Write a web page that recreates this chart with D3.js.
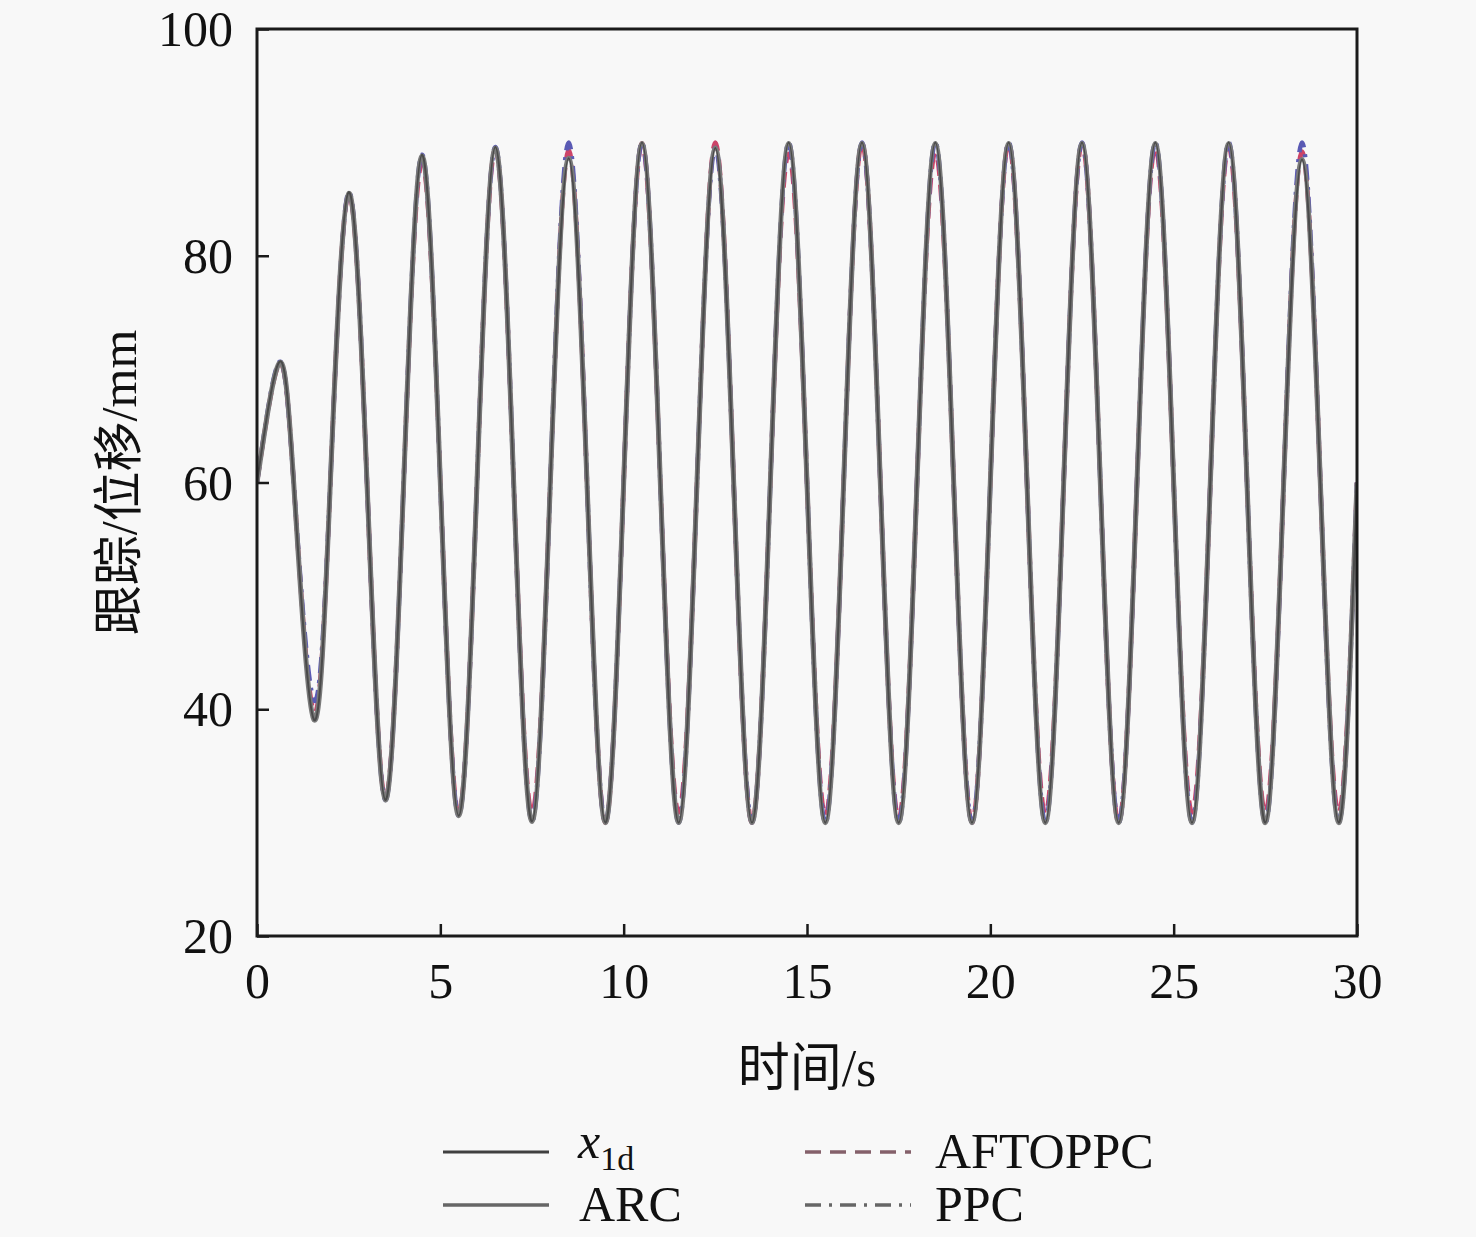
<!DOCTYPE html>
<html>
<head>
<meta charset="utf-8">
<script src="https://cdn.jsdelivr.net/npm/d3@7"></script>
<style>
  html, body { margin: 0; padding: 0; background: #f8f8f8; }
  svg { display: block; }
</style>
</head>
<body>
<svg id="chart" width="1476" height="1237"></svg>
<script>
// ---- data ----
const xTicks = [0, 5, 10, 15, 20, 25, 30];
const yTicks = [20, 40, 60, 80, 100];
// times of the mid-line crossings (value 60) and of the extrema
const crossTimes = [0,1,2,3,4,5,6,7,8,9,10,11,12,13,14,15,16,17,18,19,20,21,22,23,24,25,26,27,28,29,30];
const crossValue = 60;
const extTimes = [0.6,1.55,2.5,3.5,4.5,5.5,6.5,7.5,8.5,9.5,10.5,11.5,12.5,13.5,14.5,15.5,16.5,17.5,18.5,19.5,20.5,21.5,22.5,23.5,24.5,25.5,26.5,27.5,28.5,29.5];
// extreme values (peak, trough, peak, ...) of every curve
const x1dExt     = [70.6,39.1,85.6,32.0,88.9,30.6,89.6,30.1,88.6,30.0,90.0,30.0,89.5,30.0,90.0,30.0,90.0,30.0,90.0,30.0,90.0,30.0,90.0,30.0,90.0,30.0,90.0,30.0,88.5,30.0];
const arcExt     = [70.5,39.1,85.5,32.0,88.8,30.6,89.5,30.1,88.6,30.0,89.9,30.0,89.5,30.0,89.9,30.0,89.9,30.0,89.9,30.0,89.9,30.0,89.9,30.0,89.9,30.0,89.9,30.0,88.5,30.0];
const aftoppcExt = [70.4,39.8,85.4,32.2,88.2,30.8,89.4,30.9,89.3,30.0,89.9,30.9,90.0,30.0,89.0,30.6,89.9,30.4,89.1,30.0,89.9,30.8,89.9,30.0,89.5,30.9,89.6,30.9,89.2,30.9];
const ppcExt     = [70.6,40.8,85.6,32.0,88.9,30.6,89.6,30.1,90.0,30.0,90.0,30.0,89.5,30.0,90.0,30.0,90.0,30.0,90.0,30.0,90.0,30.0,90.0,30.0,90.0,30.0,90.0,30.0,90.0,30.0];
const seriesNames = ["x1d", "AFTOPPC", "ARC", "PPC"];

// ---- layout ----
const svg = d3.select("#chart");
const L = 257, R = 1357, T = 29, B = 936;
const x = d3.scaleLinear().domain([0, 30]).range([L, R]);
const y = d3.scaleLinear().domain([20, 100]).range([B, T]);
const serif = "'Liberation Serif', 'Times New Roman', 'Noto Sans CJK SC', serif";

function buildPoints(ext) {
  const pts = crossTimes.map(t => [t, crossValue]);
  extTimes.forEach((t, i) => pts.push([t, ext[i]]));
  pts.sort((a, b) => a[0] - b[0]);
  return pts;
}

const line = d3.line()
  .x(d => x(d[0]))
  .y(d => y(d[1]))
  .curve(d3.curveNatural);

svg.append("defs").append("clipPath").attr("id", "clip")
  .append("rect").attr("x", L).attr("y", T).attr("width", R - L).attr("height", B - T);

const plot = svg.append("g").attr("clip-path", "url(#clip)");

const styles = {
  AFTOPPC: { data: aftoppcExt, color: "#cc4468", width: 4.5, dash: "16,9" },
  PPC:     { data: ppcExt,     color: "#5a5ab4", width: 4.5, dash: "16,7,3,7" },
  ARC:     { data: arcExt,     color: "#7a7a7a", width: 5,   dash: null },
  x1d:     { data: x1dExt,     color: "#4a4a4a", width: 2,   dash: null }
};
["AFTOPPC", "PPC", "ARC", "x1d"].forEach(name => {
  const s = styles[name];
  plot.append("path")
    .datum(buildPoints(s.data))
    .attr("fill", "none")
    .attr("stroke", s.color)
    .attr("stroke-width", s.width)
    .attr("stroke-dasharray", s.dash)
    .attr("stroke-linejoin", "round")
    .attr("d", line);
});

// ---- axes ----
const xAxis = svg.append("g").attr("transform", `translate(0,${B})`)
  .call(d3.axisBottom(x).tickValues(xTicks).tickSize(-12).tickPadding(26).tickFormat(d3.format("d")));
const yAxis = svg.append("g").attr("transform", `translate(${L},0)`)
  .call(d3.axisLeft(y).tickValues(yTicks).tickSize(-12).tickPadding(24).tickFormat(d3.format("d")));
[xAxis, yAxis].forEach(g => {
  g.select(".domain").remove();
  g.selectAll(".tick line").attr("stroke", "#1a1a1a").attr("stroke-width", 2.5);
  g.selectAll(".tick text").attr("fill", "#111").style("font-family", serif).style("font-size", "50px");
});
xAxis.selectAll(".tick text").attr("dy", "0.72em");
yAxis.selectAll(".tick text").attr("dy", "0.33em");

// frame (left and bottom axis lines + top/right borders)
svg.append("rect").attr("x", L).attr("y", T).attr("width", R - L).attr("height", B - T)
  .attr("fill", "none").attr("stroke", "#1a1a1a").attr("stroke-width", 3);

// ---- axis titles ----
svg.append("text").attr("x", (L + R) / 2).attr("y", 1086)
  .attr("text-anchor", "middle").attr("fill", "#111")
  .style("font-family", serif).style("font-size", "52px").text("时间/s");
svg.append("text").attr("transform", `translate(136,${(T + B) / 2}) rotate(-90)`)
  .attr("text-anchor", "middle").attr("fill", "#111")
  .style("font-family", serif).style("font-size", "50px").text("跟踪/位移/mm");

// ---- legend ----
const legend = svg.append("g");
const legendItems = [
  { name: "x1d",     lx: 443, ly: 1152, tx: 578, color: "#404040", width: 3,   dash: null },
  { name: "AFTOPPC", lx: 805, ly: 1152, tx: 935, color: "#84606a", width: 3.5, dash: "16,9" },
  { name: "ARC",     lx: 443, ly: 1205, tx: 579, color: "#666666", width: 3.5, dash: null },
  { name: "PPC",     lx: 805, ly: 1205, tx: 935, color: "#666666", width: 3.5, dash: "16,8,3,8" }
];
legendItems.forEach(it => {
  legend.append("line").attr("x1", it.lx).attr("x2", it.lx + 106)
    .attr("y1", it.ly).attr("y2", it.ly)
    .attr("stroke", it.color).attr("stroke-width", it.width).attr("stroke-dasharray", it.dash);
  if (it.name === "x1d") {
    const t = legend.append("text").attr("x", it.tx).attr("y", it.ly + 6).attr("fill", "#111")
      .style("font-family", serif).style("font-size", "50px");
    t.append("tspan").style("font-style", "italic").text("x");
    t.append("tspan").attr("dy", 12).style("font-size", "34px").text("1d");
  } else {
    legend.append("text").attr("x", it.tx).attr("y", it.ly + 16).attr("fill", "#111")
      .style("font-family", serif).style("font-size", "50px").text(it.name);
  }
});
</script>
</body>
</html>
